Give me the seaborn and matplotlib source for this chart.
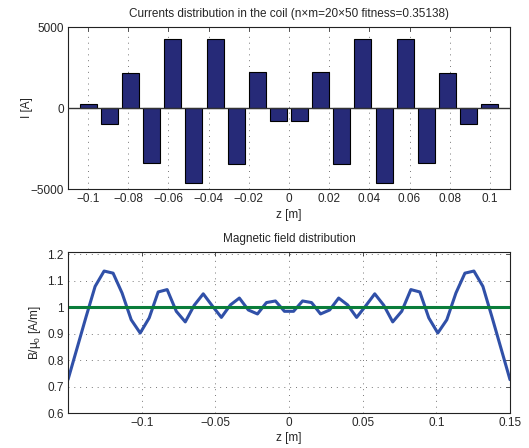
import matplotlib
matplotlib.use("Agg")
import matplotlib.pyplot as plt
import seaborn as sns
import pandas as pd

# ---- data: coil currents ----
coil_z = [-0.1, -0.0895, -0.0789, -0.0684, -0.0579, -0.0474, -0.0368, -0.0263,
          -0.0158, -0.0053, 0.0053, 0.0158, 0.0263, 0.0368, 0.0474, 0.0579,
          0.0684, 0.0789, 0.0895, 0.1]
coil_current = [230, -990, 2140, -3395, 4280, -4630, 4280, -3457, 2200, -800,
                -800, 2200, -3457, 4280, -4630, 4280, -3395, 2140, -990, 230]
top_xticks = [-0.1, -0.08, -0.06, -0.04, -0.02, 0, 0.02, 0.04, 0.06, 0.08, 0.1]
top_xticklabels = ["\u22120.1", "\u22120.08", "\u22120.06", "\u22120.04", "\u22120.02", "0",
                   "0.02", "0.04", "0.06", "0.08", "0.1"]
top_yticks = [-5000, 0, 5000]
top_yticklabels = ["\u22125000", "0", "5000"]

# ---- data: magnetic field ----
field_z = [-0.15, -0.1439, -0.1378, -0.1316, -0.1255, -0.1194, -0.1133, -0.1071,
           -0.1010, -0.0949, -0.0888, -0.0827, -0.0765, -0.0704, -0.0643, -0.0582,
           -0.0520, -0.0459, -0.0398, -0.0337, -0.0276, -0.0214, -0.0153, -0.0092,
           -0.0031, 0.0031, 0.0092, 0.0153, 0.0214, 0.0276, 0.0337, 0.0398,
           0.0459, 0.0520, 0.0582, 0.0643, 0.0704, 0.0765, 0.0827, 0.0888,
           0.0949, 0.1010, 0.1071, 0.1133, 0.1194, 0.1255, 0.1316, 0.1378,
           0.1439, 0.15]
field_B = [0.727, 0.845, 0.963, 1.079, 1.137, 1.129, 1.054, 0.953,
           0.903, 0.960, 1.058, 1.067, 0.985, 0.945, 1.008, 1.051,
           1.005, 0.962, 1.009, 1.035, 0.990, 0.975, 1.018, 1.024,
           0.985, 0.985, 1.024, 1.018, 0.975, 0.990, 1.035, 1.009,
           0.962, 1.005, 1.051, 1.008, 0.945, 0.985, 1.067, 1.058,
           0.960, 0.903, 0.953, 1.054, 1.129, 1.137, 1.079, 0.963,
           0.845, 0.727]
target_z = [-0.15, 0.15]
target_B = [1.0, 1.0]
bot_xticks = [-0.1, -0.05, 0, 0.05, 0.1, 0.15]
bot_xticklabels = ["\u22120.1", "\u22120.05", "0", "0.05", "0.1", "0.15"]
bot_yticks = [0.6, 0.7, 0.8, 0.9, 1.0, 1.1, 1.2]
bot_yticklabels = ["0.6", "0.7", "0.8", "0.9", "1", "1.1", "1.2"]

sns.set_style("white")
plt.rcParams["font.family"] = ["Liberation Sans", "DejaVu Sans"]
plt.rcParams["mathtext.fontset"] = "custom"
plt.rcParams["mathtext.rm"] = "Liberation Sans"
plt.rcParams["mathtext.it"] = "Liberation Sans:italic"
plt.rcParams["axes.unicode_minus"] = True

FS = 8.5
fig = plt.figure(figsize=(5.29, 4.48), dpi=100)
ax1 = fig.add_axes([68 / 529, 1 - 189 / 448, 442 / 529, 162 / 448])
ax2 = fig.add_axes([68 / 529, 1 - 413.3 / 448, 442 / 529, 161.6 / 448])

df_coil = pd.DataFrame({"z": coil_z, "I": coil_current})
sns.barplot(data=df_coil, x="z", y="I", native_scale=True, width=0.8,
            color="#262a78", saturation=1, edgecolor="black", linewidth=0.8, ax=ax1)
ax1.axhline(0, color="#333333", lw=1.0, zorder=3)
ax1.set_xlim(-0.11, 0.11)
ax1.set_ylim(-5000, 5000)
ax1.set_xticks(top_xticks)
ax1.set_xticklabels(top_xticklabels)
ax1.set_yticks(top_yticks)
ax1.set_yticklabels(top_yticklabels)
ax1.set_title("Currents distribution in the coil (n\u00d7m=20\u00d750 fitness=0.35138)",
              fontsize=FS, pad=7)
ax1.set_xlabel("z [m]", fontsize=FS, labelpad=3)
ax1.set_ylabel("I [A]", fontsize=FS, labelpad=-2)

df_field = pd.DataFrame({"z": field_z, "B": field_B})
df_target = pd.DataFrame({"z": target_z, "B": target_B})
sns.lineplot(data=df_field, x="z", y="B", color="#3050a8", lw=2.2, ax=ax2)
sns.lineplot(data=df_target, x="z", y="B", color="#0a7d3a", lw=2.2, ax=ax2)
ax2.set_xlim(-0.15, 0.15)
ax2.set_ylim(0.6, 1.21)
ax2.set_xticks(bot_xticks)
ax2.set_xticklabels(bot_xticklabels)
ax2.set_yticks(bot_yticks)
ax2.set_yticklabels(bot_yticklabels)
ax2.set_title("Magnetic field distribution", fontsize=FS, pad=7)
ax2.set_xlabel("z [m]", fontsize=FS, labelpad=2)
ax2.set_ylabel("B/\u03bc$_0$ [A/m]", fontsize=FS, labelpad=3)

for ax in (ax1, ax2):
    ax.grid(True, linestyle=(0, (1, 5)), color="#777777", linewidth=0.7)
    ax.set_axisbelow(True)
    ax.tick_params(direction="in", top=True, right=True, length=3, width=0.6,
                   labelsize=FS, pad=3, color="#333333")
    for s in ax.spines.values():
        s.set_visible(True)
        s.set_color("#222222")
        s.set_linewidth(0.8)

fig.savefig("out.png", dpi=100)
